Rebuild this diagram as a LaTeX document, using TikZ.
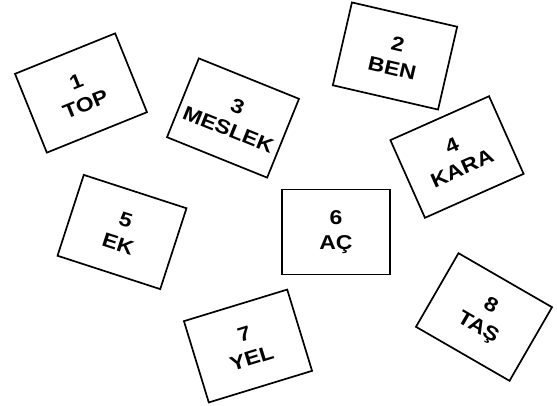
\documentclass[tikz,border=0pt]{standalone}
\usepackage{fontspec}
\setmainfont{Liberation Sans}[FakeStretch=1.15]
\usepackage{tikz}
\usetikzlibrary{positioning}

\begin{document}
\begin{tikzpicture}[x=1pt, y=-1pt,
  wordcard/.style={draw, line width=1.7pt, minimum width=108pt, minimum height=85pt,
    align=center, inner sep=0pt, font=\fontsize{20}{25}\selectfont\bfseries}]
  \useasboundingbox (0,0) rectangle (557,405);

  % --- top row ---
  \node[wordcard, rotate=22] (card1) at (81,93) {1\\TOP};
  \node[wordcard, rotate=-13] (card2) at (395,56) {2\\BEN};
  \node[wordcard, rotate=-22] (card3) at (233,118) {3\\MESLEK};
  \node[wordcard, rotate=24] (card4) at (457,157) {4\\KARA};

  % --- middle and bottom ---
  \node[wordcard, rotate=-18] (card5) at (122,232) {5\\EK};
  \node[wordcard] (card6) at (336,232) {6\\AÇ};
  \node[wordcard, rotate=17] (card7) at (248,346) {7\\YEL};
  \node[wordcard, rotate=-30] (card8) at (484,317) {8\\TAŞ};
\end{tikzpicture}
\end{document}
